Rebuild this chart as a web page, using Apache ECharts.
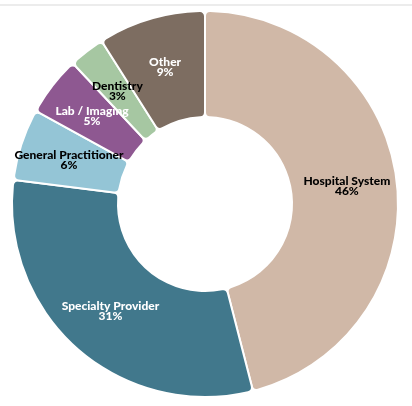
<!DOCTYPE html>
<html><head><meta charset="utf-8">
<script src="https://cdn.jsdelivr.net/npm/echarts@6/dist/echarts.min.js"></script>
<style>html,body{margin:0;padding:0;background:#fff}#top{position:absolute;left:0;top:4px;width:412px;height:0;border-top:2px solid #ececec}#c{width:412px;height:406px}</style>
</head><body><div id="top"></div><div id="c"></div>
<script>
const categories = ['Hospital System','Specialty Provider','General Practitioner','Lab / Imaging','Dentistry','Other'];
const values = [46,31,6,5,3,9];
const colors = ['#D0B8A7','#41788C','#94C5D6','#8E5891','#A6C7A2','#7D6D61'];
const labelColors = ['#000','#fff','#000','#fff','#000','#fff'];
const chart = echarts.init(document.getElementById('c'));
chart.setOption({
  animation:false,
  series:[{
    type:'pie',
    center:[205,204],
    radius:[87,193],
    startAngle:90,
    clockwise:true,
    itemStyle:{borderColor:'#fff',borderWidth:2,borderRadius:5},
    label:{position:'inside',formatter:'{b}\n{c}%',fontFamily:'Lato',fontWeight:900,fontSize:12,lineHeight:10,align:'center'},
    labelLine:{show:false},
    data:categories.map((n,i)=>({name:n,value:values[i],itemStyle:{color:colors[i]},label:{color:labelColors[i]}}))
  }]
});
</script></body></html>
